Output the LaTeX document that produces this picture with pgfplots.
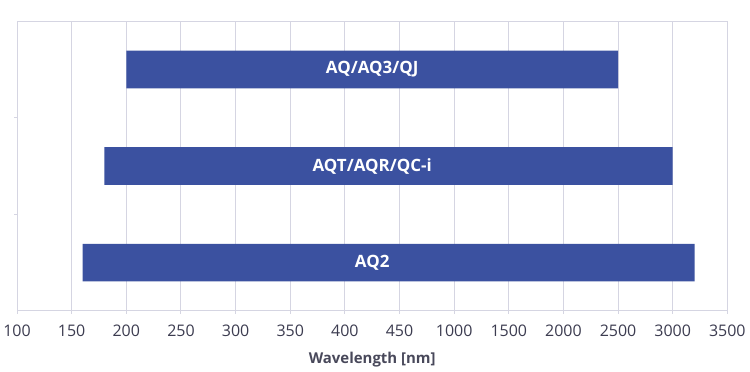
\documentclass[border=0pt]{standalone}
\usepackage{pgfplots}
\pgfplotsset{compat=1.18}
\usepackage{fontspec}
\setmainfont{Open Sans}
\definecolor{barblue}{RGB}{59,81,160}
\definecolor{gridc}{RGB}{213,213,226}
\definecolor{ticktext}{RGB}{60,60,80}
\definecolor{labtext}{RGB}{72,72,90}
\begin{document}
\begin{tikzpicture}
\begin{axis}[
  /pgf/number format/assume math mode=true,
  scale only axis,
  width=712.3pt, height=290.4pt,
  xbar stacked,
  bar width=0.39,
  xmin=0, xmax=13,
  ymin=-0.5, ymax=2.5,
  xtick={0,...,13},
  xticklabels={100,150,200,250,300,350,400,450,1000,1500,2000,2500,3000,3500},
  ytick={0.5,1.5},
  yticklabels={},
  xmajorgrids,
  grid style={gridc, line width=1pt},
  axis line style={gridc, line width=1pt},
  tick style={gridc, line width=1pt},
  major tick length=3pt,
  xtick pos=bottom, ytick pos=left,
  tick align=outside,
  ticklabel style={font=\fontsize{16}{19}\selectfont, text=ticktext},
  xticklabel style={yshift=-8pt},
  xlabel={\textbf{Wavelength [nm]}},
  xlabel style={font=\fontsize{15}{18}\selectfont, text=labtext, yshift=-8pt},
  clip=false,
]
\addplot[draw=none, fill=none] coordinates {(2,2) (1.6,1) (1.2,0)};
\addplot[draw=none, fill=barblue] coordinates {(9,2) (10.4,1) (11.2,0)};
\coordinate (l1) at (axis cs:6.5,2);
\coordinate (l2) at (axis cs:6.5,1);
\coordinate (l3) at (axis cs:6.5,0);
\end{axis}
\node[text=white, font=\bfseries\fontsize{17}{20}\selectfont] at (l1) {AQ/AQ3/QJ};
\node[text=white, font=\bfseries\fontsize{17}{20}\selectfont] at (l2) {AQT/AQR/QC-i};
\node[text=white, font=\bfseries\fontsize{17}{20}\selectfont] at (l3) {AQ2};
\useasboundingbox (-15pt,-61.3pt) rectangle (735pt,311.7pt);
\end{tikzpicture}
\end{document}
